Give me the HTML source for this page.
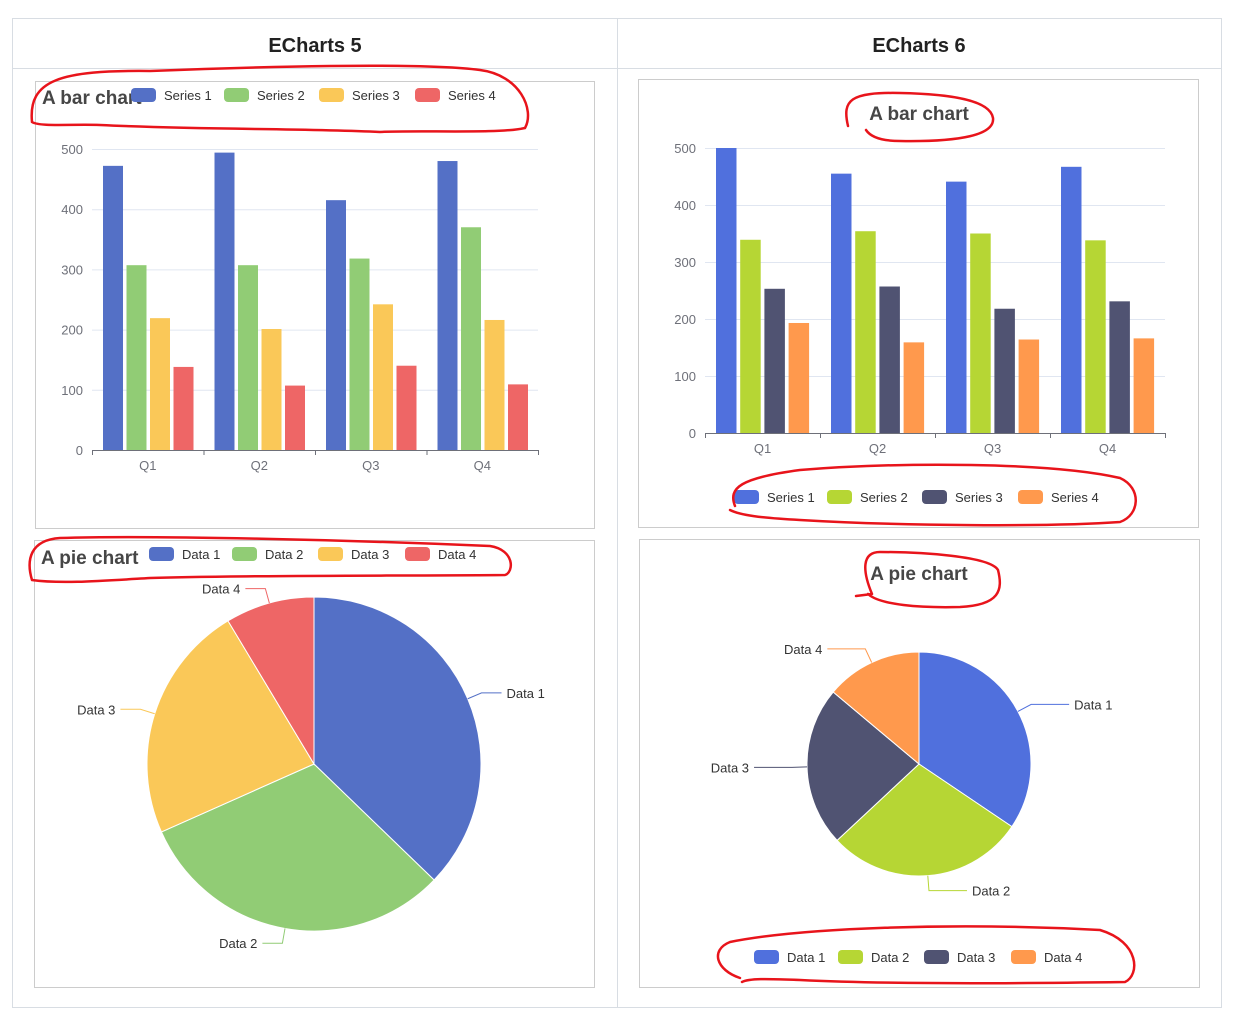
<!DOCTYPE html>
<html><head><meta charset="utf-8"><style>
body{margin:0;background:#fff;}
svg{display:block;font-family:"Liberation Sans","Noto Sans CJK SC",sans-serif;}
</style></head><body>
<svg id="s" width="1234" height="1023" viewBox="0 0 1234 1023">
<rect x="12.5" y="18.5" width="1209" height="989" fill="#fff" stroke="#d8dde3"/>
<line x1="12" y1="68.5" x2="1222" y2="68.5" stroke="#d8dde3"/>
<line x1="617.5" y1="18" x2="617.5" y2="1008" stroke="#d8dde3"/>
<text x="315" y="52" text-anchor="middle" font-size="20" font-weight="bold" fill="#222">ECharts 5</text>
<text x="919" y="52" text-anchor="middle" font-size="20" font-weight="bold" fill="#222">ECharts 6</text>
<rect x="35.5" y="81.5" width="559" height="447" fill="none" stroke="#ccc"/>
<rect x="34.5" y="540.5" width="560" height="447" fill="none" stroke="#ccc"/>
<rect x="638.5" y="79.5" width="560" height="448" fill="none" stroke="#ccc"/>
<rect x="639.5" y="539.5" width="560" height="448" fill="none" stroke="#ccc"/>
<g id="charts"></g>
<g fill="none" stroke="#e8141b" stroke-width="2.5" stroke-linecap="round">
<path d="M32,122 C28,80 60,70 150,71 C250,67 420,62 480,70 C520,75 535,110 525,128 C500,134 420,130 380,132 C300,128 200,130 100,125 C70,124 40,127 32,122"/>
<path d="M848,126 C842,100 850,92 900,93 C950,94 990,100 993,118 C995,135 960,142 900,141 C880,141 870,136 866,130"/>
<path d="M735,506 C728,488 740,478 800,470 C900,462 1050,462 1120,478 C1142,488 1140,515 1120,522 C1050,527 900,526 800,520 C760,518 740,515 730,510"/>
<path d="M32,580 C26,560 30,540 60,538 C150,535 350,540 490,546 C515,550 514,572 505,575 C400,576 250,575 150,578 C100,581 60,584 32,580"/>
<path d="M872,594 C862,570 862,552 880,552 C920,552 990,556 998,570 C1003,590 1000,605 960,607 C920,608 880,605 868,594 M856,596 L872,594"/>
<path d="M740,978 C716,970 710,950 730,942 C800,928 950,922 1100,930 C1140,942 1140,975 1125,982 C1050,983 900,985 800,980 C770,979 750,978 742,982"/>
</g>
</svg>
<script>
// ===== data =====
const barCategories = ["Q1","Q2","Q3","Q4"];
const barSeriesNames = ["Series 1","Series 2","Series 3","Series 4"];
const leftS1 = [472,494,415,480];
const leftS2 = [307,307,318,370];
const leftS3 = [219,201,242,216];
const leftS4 = [138,107,140,109];
const rightS1 = [500,455,441,467];
const rightS2 = [339,354,350,338];
const rightS3 = [253,257,218,231];
const rightS4 = [193,159,164,166];
const yTicks = [0,100,200,300,400,500];
const pieNames = ["Data 1","Data 2","Data 3","Data 4"];
const leftPieValues = [134,112,83,31];
const rightPieValues = [124,103,83,50];

const NS="http://www.w3.org/2000/svg";
const root=document.getElementById('charts');
function mk(tag,attrs,parent,text){const e=document.createElementNS(NS,tag);for(const k in attrs)e.setAttribute(k,attrs[k]);if(text!==undefined)e.textContent=text;(parent||root).appendChild(e);return e;}

function barChart(cfg){
  const g=mk('g',{});
  
  
  const y=v=>cfg.y0-(v/500)*(cfg.y0-cfg.y500);
  const cw=(cfg.x1-cfg.x0)/barCategories.length;
  yTicks.forEach(t=>{
    if(t>0){const l=mk('line',{x1:cfg.x0,x2:cfg.x1,y1:y(t)+0.5,y2:y(t)+0.5,stroke:'#e0e6f1'},g);
      
      }
    const tx=mk('text',{x:cfg.x0-9,y:y(t)+5,'text-anchor':'end','font-size':13,fill:'#6e7079'},g,String(t));
    
    
  });
  const ax=mk('line',{x1:cfg.x0,x2:cfg.x1,y1:cfg.y0+0.5,y2:cfg.y0+0.5,stroke:'#6e7079'},g);
  
  
  for(let i=0;i<=barCategories.length;i++){
    mk('line',{x1:cfg.x0+i*cw+0.5,x2:cfg.x0+i*cw+0.5,y1:cfg.y0,y2:cfg.y0+5,stroke:'#6e7079'},g);
  }
  barCategories.forEach((c,i)=>{
    const t=mk('text',{x:cfg.x0+(i+0.5)*cw,y:cfg.y0+20,'text-anchor':'middle','font-size':13,fill:'#6e7079'},g,c);
    
    
    cfg.series.forEach((s,j)=>{
      const bx=cfg.x0+i*cw+cfg.pad+j*(cfg.bw+cfg.gap);
      const r=mk('rect',{x:bx,y:y(s[i]),width:cfg.bw,height:cfg.y0-y(s[i]),fill:cfg.colors[j]},g);
      
      
    });
  });
  const tt=mk('text',{x:cfg.tx,y:cfg.ty,'text-anchor':cfg.ta,'font-size':19,'font-weight':'bold',fill:'#464646'},g,'A bar chart');
  
  
  legend(g,barSeriesNames,cfg.colors,cfg.legX,cfg.legY);
}
function legend(g,names,colors,xs,ly){
  names.forEach((n,i)=>{
    const it=mk('g',{},g);
    
    
    mk('rect',{x:xs[i],y:ly-7,width:25,height:14,rx:4,fill:colors[i]},it);
    mk('text',{x:xs[i]+33,y:ly+5,'font-size':13,fill:'#333'},it,n);
  });
}
function pie(cfg){
  const g=mk('g',{});
  
  
  const tot=cfg.values.reduce((a,b)=>a+b,0);
  let a0=0;
  const pt=(a,r)=>[cfg.cx+r*Math.sin(a),cfg.cy-r*Math.cos(a)];
  cfg.values.forEach((v,i)=>{
    const a1=a0+v/tot*2*Math.PI;
    const p0=pt(a0,cfg.r),p1=pt(a1,cfg.r);
    const s=mk('path',{d:`M${cfg.cx},${cfg.cy}L${p0[0]},${p0[1]}A${cfg.r},${cfg.r} 0 ${a1-a0>Math.PI?1:0} 1 ${p1[0]},${p1[1]}Z`,fill:cfg.colors[i],stroke:'#fff','stroke-width':1},g);
    
    
    const am=(a0+a1)/2;
    const q0=pt(am,cfg.r),q1=pt(am,cfg.r+15);
    const dir=Math.sin(am)>=0?1:-1;
    const q2=[q1[0]+dir*cfg.h,q1[1]];
    mk('polyline',{points:`${q0} ${q1} ${q2}`,fill:'none',stroke:cfg.colors[i],'stroke-width':1},g);
    const t=mk('text',{x:q2[0]+dir*5,y:q2[1]+5,'text-anchor':dir>0?'start':'end','font-size':13,fill:'#333'},g,pieNames[i]);
    
    
    a0=a1;
  });
  const tt=mk('text',{x:cfg.tx,y:cfg.ty,'text-anchor':cfg.ta,'font-size':19,'font-weight':'bold',fill:'#464646'},g,'A pie chart');
  
  
  legend(g,pieNames,cfg.colors,cfg.legX,cfg.legY);
}
const c5=['#5470c6','#91cc75','#fac858','#ee6666'];
const c6=['#5070dd','#b6d634','#505372','#ff994d'];
barChart({name:'echarts5-bar-chart',x0:92,x1:538,y0:450,y500:149,pad:11,bw:20,gap:3.5,series:[leftS1,leftS2,leftS3,leftS4],colors:c5,tx:42,ty:104,ta:'start',legX:[131,224,319,415],legY:95});
barChart({name:'echarts6-bar-chart',x0:705,x1:1165,y0:433,y500:148,pad:11,bw:20.5,gap:3.7,series:[rightS1,rightS2,rightS3,rightS4],colors:c6,tx:919,ty:120,ta:'middle',legX:[734,827,922,1018],legY:497});
pie({name:'echarts5-pie-chart',cx:314,cy:764,r:167,h:20,values:leftPieValues,colors:c5,tx:41,ty:564,ta:'start',legX:[149,232,318,405],legY:554});
pie({name:'echarts6-pie-chart',cx:919,cy:764,r:112,h:38,values:rightPieValues,colors:c6,tx:919,ty:580,ta:'middle',legX:[754,838,924,1011],legY:957});
</script>
</body></html>
